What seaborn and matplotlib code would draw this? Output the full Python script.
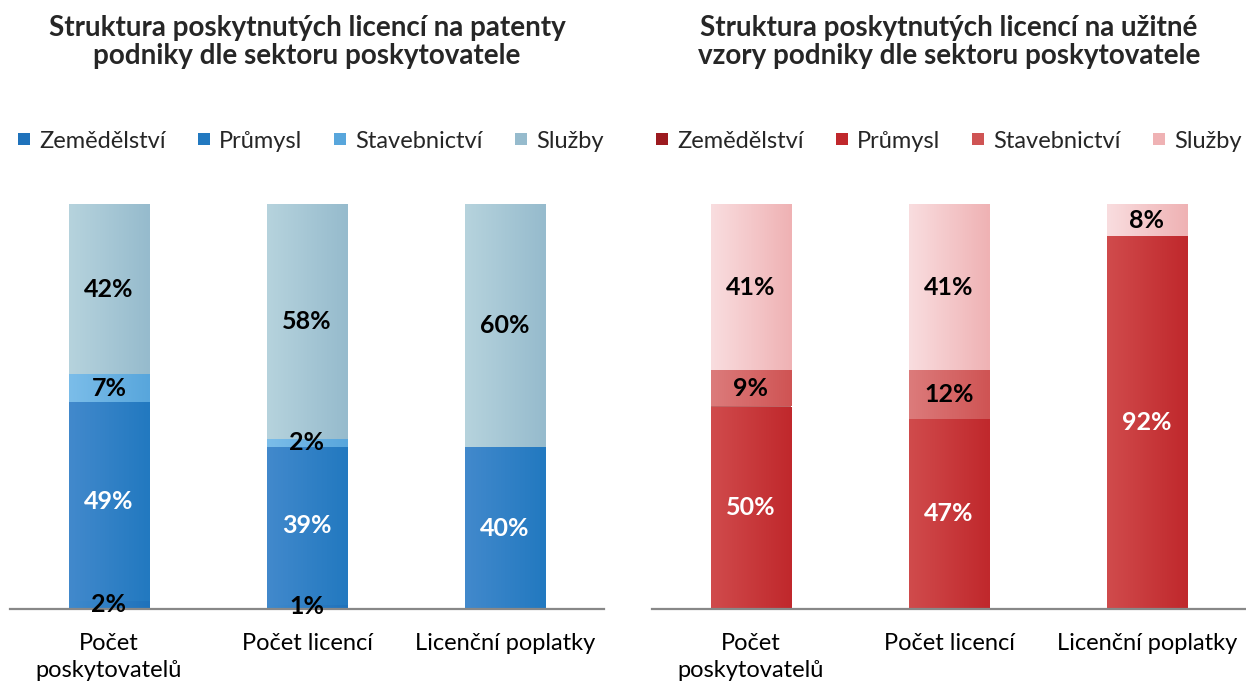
import numpy as np
import matplotlib.pyplot as plt
from matplotlib.colors import LinearSegmentedColormap
from matplotlib.lines import Line2D
import seaborn as sns

# Data
categories = ['Počet\nposkytovatelů', 'Počet licencí', 'Licenční poplatky']
sectors = ['Zemědělství', 'Průmysl', 'Stavebnictví', 'Služby']

patent_values = {
    'Zemědělství': [2, 1, 0],
    'Průmysl': [49, 39, 40],
    'Stavebnictví': [7, 2, 0],
    'Služby': [42, 58, 60],
}
utility_values = {
    'Zemědělství': [0, 0, 0],
    'Průmysl': [50, 47, 92],
    'Stavebnictví': [9, 12, 0],
    'Služby': [41, 41, 8],
}

titles = ['Struktura poskytnutých licencí na patenty\npodniky dle sektoru poskytovatele',
          'Struktura poskytnutých licencí na užitné\nvzory podniky dle sektoru poskytovatele']

# gradient colours (left, right) per sector
blue_colors = {
    'Zemědělství': ('#3f8acd', '#1f72bb'),
    'Průmysl': ('#4289cc', '#2279c0'),
    'Stavebnictví': ('#7bbde9', '#58a6dc'),
    'Služby': ('#b6d3dd', '#96bbcd'),
}
red_colors = {
    'Zemědělství': ('#b8282c', '#9c1a1f'),
    'Průmysl': ('#d04b4c', '#c0282c'),
    'Stavebnictví': ('#dc7b7b', '#cf5454'),
    'Služby': ('#f9dddf', '#efb2b4'),
}

sns.set_theme(style='white')
plt.rcParams['font.family'] = ['Lato', 'DejaVu Sans']

fig = plt.figure(figsize=(12.46, 6.86), dpi=100)

W, H = 1246, 686
panels = [(10, patent_values, blue_colors, 4), (652, utility_values, red_colors, 0)]

for i, (left_px, values, colors, leg_shift) in enumerate(panels):
    ax = fig.add_axes([left_px / W, (H - 609) / H, 594 / W, 405 / H])
    bottom = np.zeros(len(categories))
    for s in sectors:
        vals = np.array(values[s], dtype=float)
        sns.barplot(x=categories, y=vals, bottom=bottom, color=colors[s][1],
                    width=0.405, errorbar=None, ax=ax, linewidth=0)
        bottom = bottom + vals

    # gradient fill on each bar segment
    n = len(categories)
    for k, p in enumerate(ax.patches):
        s = sectors[k // n]
        if p.get_height() <= 0:
            continue
        cmap = LinearSegmentedColormap.from_list('g', colors[s])
        x0, y0 = p.get_x(), p.get_y()
        im = ax.imshow(np.linspace(0, 1, 64).reshape(1, -1), cmap=cmap,
                       extent=[x0, x0 + p.get_width(), y0, y0 + p.get_height()],
                       aspect='auto', zorder=p.get_zorder() + 0.1, interpolation='bicubic')
        im.set_clip_path(p)

    # labels
    bottom = np.zeros(len(categories))
    for s in sectors:
        vals = np.array(values[s], dtype=float)
        for j, v in enumerate(vals):
            if v > 0:
                ax.text(j, bottom[j] + v / 2, f'{v:.0f}%', ha='center', va='center',
                        fontsize=18, fontweight='bold',
                        color='white' if s == 'Průmysl' else 'black', zorder=5)
        bottom = bottom + vals

    ax.set_xlim(-0.5, 2.5)
    ax.set_ylim(0, 100)
    ax.set_yticks([])
    ax.set_ylabel('')
    sns.despine(ax=ax, left=True)
    ax.spines['bottom'].set_color('#888888')
    ax.spines['bottom'].set_linewidth(1.6)
    ax.spines['bottom'].set_zorder(4)
    ax.tick_params(axis='x', length=0, pad=17, labelsize=17, colors='black')
    for t in ax.get_xticklabels():
        t.set_linespacing(1.4)
        t.set_va('top')

    cx = (left_px + 297) / W
    fig.text(cx, 1 - 42 / H, titles[i], ha='center', va='center', fontsize=20,
             fontweight='bold', linespacing=1.1)

    handles = [Line2D([], [], marker='s', linestyle='', markersize=9,
                      markerfacecolor=colors[s][1], markeredgewidth=0) for s in sectors]
    fig.legend(handles, sectors, loc='center', bbox_to_anchor=(cx + leg_shift / W, 1 - 141 / H),
               ncol=4, frameon=False, fontsize=17, handlelength=0.5, handletextpad=0.4,
               columnspacing=1.35, borderaxespad=0)

fig.savefig('out.png', dpi=100)
